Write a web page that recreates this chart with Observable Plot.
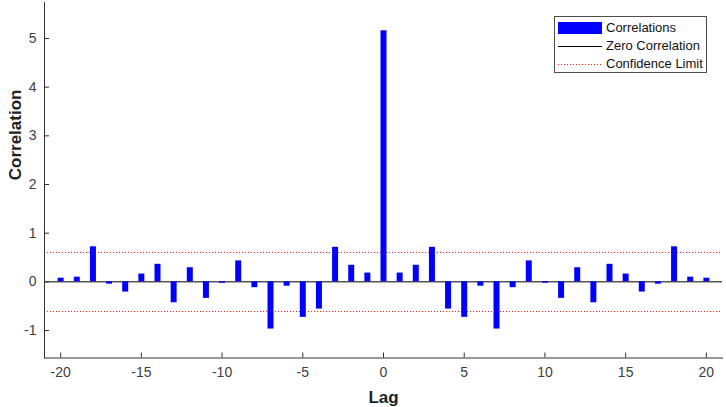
<!DOCTYPE html>
<html><head><meta charset="utf-8">
<script src="https://cdn.jsdelivr.net/npm/d3@7"></script>
<script src="https://cdn.jsdelivr.net/npm/@observablehq/plot@0.6"></script>
<style>
body{margin:0;background:#fff;}
#wrap{position:relative;width:726px;height:407px;font-family:Arial,"Liberation Sans",sans-serif;}
.legend{position:absolute;left:554px;top:16px;width:153px;height:57px;border:1px solid #4d4d4d;background:#fff;box-sizing:border-box;}
.row{position:absolute;left:3px;height:14px;width:148px;font-size:13px;color:#111;}
.row span{position:absolute;left:48px;top:0;line-height:14px;white-space:nowrap;}
.sw{position:absolute;left:0;width:44px;}
</style></head>
<body><div id="wrap"></div>
<script>
const lags = [-20,-19,-18,-17,-16,-15,-14,-13,-12,-11,-10,-9,-8,-7,-6,-5,-4,-3,-2,-1,0,1,2,3,4,5,6,7,8,9,10,11,12,13,14,15,16,17,18,19,20];
const correlations = [0.075,0.096,0.72,-0.048,-0.21,0.16,0.36,-0.43,0.29,-0.34,-0.03,0.43,-0.12,-0.97,-0.09,-0.73,-0.56,0.71,0.34,0.18,5.16,0.18,0.34,0.71,-0.56,-0.73,-0.09,-0.97,-0.12,0.43,-0.03,-0.34,0.29,-0.43,0.36,0.16,-0.21,-0.048,0.72,0.096,0.075];
const confidenceLimits = [0.61, -0.61];
const xTicks = [-20,-15,-10,-5,0,5,10,15,20];
const yTicks = [-1,0,1,2,3,4,5];
const xDomain = [-21, 21];
const yDomain = [-1.565, 5.74];

const data = lags.map((lag, i) => ({lag, value: correlations[i]}));
const fmt = d => String(d);

const plot = Plot.plot({
  width: 726, height: 407,
  marginLeft: 44, marginRight: 4, marginTop: 2, marginBottom: 49.5,
  x: {domain: xDomain},
  y: {domain: yDomain},
  style: {fontFamily: "Arial, 'Liberation Sans', sans-serif", fontSize: "14px", color: "#404040", background: "white"},
  marks: [
    Plot.ruleY(confidenceLimits, {stroke: "#ff2020", strokeDasharray: "1,2", strokeWidth: 1, shapeRendering: "crispEdges"}),
    Plot.ruleY([0], {stroke: "#000", strokeWidth: 1}),
    Plot.ruleX(data, {x: "lag", y1: 0, y2: "value", stroke: "#0000ff", strokeWidth: 6}),
    Plot.frame({anchor: "left", stroke: "#333"}),
    Plot.frame({anchor: "bottom", stroke: "#333"}),
    Plot.axisX(xTicks, {anchor: "bottom", tickSize: -5, tickFormat: () => "", stroke: "#333", label: null}),
    Plot.axisX(xTicks, {anchor: "bottom", tickSize: 0, tickPadding: 9, tickFormat: fmt, fill: "#404040", fontSize: 14, label: null}),
    Plot.axisY(yTicks, {anchor: "left", tickSize: -5, tickFormat: () => "", stroke: "#333", label: null}),
    Plot.axisY(yTicks, {anchor: "left", tickSize: 0, tickPadding: 8, tickFormat: fmt, fill: "#404040", fontSize: 14, label: null}),
    Plot.text(["Lag"], {frameAnchor: "bottom", dy: 40, lineAnchor: "middle", fontWeight: "bold", fontSize: 17, fill: "#222"}),
    Plot.text(["Correlation"], {frameAnchor: "left", dx: -29, rotate: -90, lineAnchor: "middle", fontWeight: "bold", fontSize: 17, fill: "#222"})
  ]
});
const wrap = document.getElementById("wrap");
wrap.appendChild(plot);

const legend = document.createElement("div");
legend.className = "legend";
legend.innerHTML = `
  <div class="row" style="top:4px"><div class="sw" style="top:1px;height:12px;background:#0000ff"></div><span>Correlations</span></div>
  <div class="row" style="top:22px"><div class="sw" style="top:7px;height:0;border-top:1px solid #000"></div><span>Zero Correlation</span></div>
  <div class="row" style="top:40px"><svg class="sw" style="top:6px" width="44" height="3"><line x1="0" x2="44" y1="1.5" y2="1.5" stroke="#ff2020" stroke-width="1" stroke-dasharray="1,2" shape-rendering="crispEdges"/></svg><span>Confidence Limit</span></div>`;
wrap.appendChild(legend);
</script></body></html>
